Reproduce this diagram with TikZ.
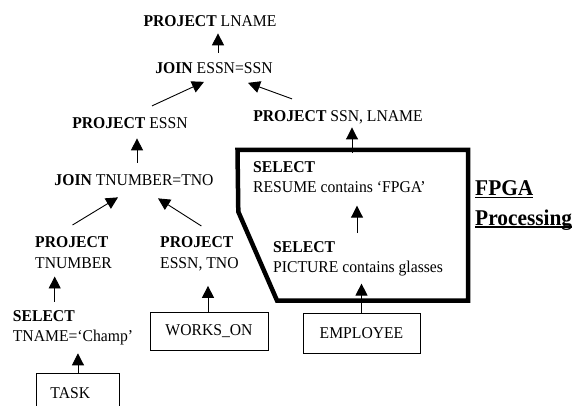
\documentclass[tikz,border=0pt]{standalone}
\usepackage{fontspec}
\setmainfont{Liberation Serif}[FakeStretch=0.95]
\usetikzlibrary{arrows.meta,calc}
\newcommand\ulbar[1]{\setbox0\hbox{#1}\rlap{\rule[-2.6pt]{\wd0}{1.6pt}}\box0}
\begin{document}
\begin{tikzpicture}[x=1pt,y=-1pt,
  lbl/.style={inner sep=0pt, font=\fontsize{16.5}{20.5}\selectfont},
  mlbl/.style={lbl, align=left, anchor=north west},
  relbox/.style={draw, line width=0.9pt, inner sep=0pt, font=\fontsize{16.5}{20.5}\selectfont},
  arr/.style={line width=0.9pt, -{Triangle[length=12pt,width=12pt]}},
  fpgabox/.style={line width=4.5pt, line join=miter},
  fpgalbl/.style={inner sep=0pt, align=left, anchor=north west, font=\fontsize{22.5}{29.5}\selectfont\bfseries}]
\clip (0,0) rectangle (575,406);
% labels
\node[lbl, anchor=base] (plname) at (210,26.5) {\textbf{PROJECT} LNAME};
\node[lbl, anchor=base] (jessn) at (214,73.5) {\textbf{JOIN} ESSN=SSN};
\node[lbl, anchor=base] (pessn) at (130,128.5) {\textbf{PROJECT} ESSN};
\node[lbl, anchor=base] (pssn) at (338,121.5) {\textbf{PROJECT} SSN, LNAME};
\node[lbl, anchor=base] (jtno) at (134,185.5) {\textbf{JOIN} TNUMBER=TNO};
\node[mlbl] (ptnum) at (35,236.5) {\textbf{PROJECT}\\TNUMBER};
\node[mlbl] (pessntno) at (160,236.5) {\textbf{PROJECT}\\ESSN, TNO};
\node[mlbl, font=\fontsize{16.5}{20}\selectfont] (sel1) at (12.7,310) {\textbf{SELECT}\\TNAME=‘Champ’};
\node[mlbl, font=\fontsize{16.5}{20}\selectfont] (sresume) at (253,161.7) {\textbf{SELECT}\\RESUME contains ‘FPGA’};
\node[mlbl, font=\fontsize{16.5}{20}\selectfont] (spicture) at (273,241.7) {\textbf{SELECT}\\PICTURE contains glasses};
\node[fpgalbl] (fpga) at (475,180.7) {\ulbar{FPGA}\\\ulbar{Processing}};
% relations
\node[relbox, minimum width=118pt, minimum height=38pt] (works) at (209,331) {WORKS\_ON};
\node[relbox, minimum width=117pt, minimum height=40pt] (employee) at (361.5,333) {EMPLOYEE};
\node[relbox, anchor=north west, minimum width=83pt, minimum height=40pt, text width=55pt, inner xsep=14pt, align=left] (task) at (36,373) {TASK};
% FPGA processing region
\draw[fpgabox] (237.5,150) -- (468,150) -- (468,300.5) -- (277,300.5) -- (238.3,211.7) -- cycle;
% connectors
\draw[arr, shorten <=9.5pt, shorten >=6.5pt] ([xshift=4pt]jessn.north) -- ([xshift=4pt]jessn.north |- plname.south);
\draw[arr] ($(pessn.north)+(22,-11.5)$) -- ($(jessn.south)+(-10,8)$);
\draw[arr] ($(pssn.north)+(-46,-11.5)$) -- ($(jessn.south)+(34,9)$);
\draw[arr, shorten <=11.5pt, shorten >=9.5pt] ([xshift=3pt]jtno.north) -- ([xshift=3pt]jtno.north |- pessn.south);
\draw[arr] ($(ptnum.north)+(-1,-11.5)$) -- ($(jtno.south)+(-16,11.5)$);
\draw[arr] ($(pessntno.north)+(2,-10.5)$) -- ($(jtno.south)+(24,12.5)$);
\draw[arr, shorten <=8.5pt, shorten >=8pt] ([xshift=42pt]sel1.north west) -- ([xshift=42pt]sel1.north west |- ptnum.south);
\draw[arr, shorten >=8.5pt] (task.north) -- (task.north |- sel1.south);
\draw[arr, shorten >=15pt] ([xshift=-1pt]works.north) -- ([xshift=-1pt]works.north |- pessntno.south);
\draw[arr, shorten >=7pt] (employee.north) -- (employee.north |- spicture.south);
\draw[arr, shorten <=8.7pt, shorten >=12.5pt] ([xshift=84pt]spicture.north west) -- ([xshift=84pt]spicture.north west |- sresume.south);
\draw[arr, shorten <=8.5pt, shorten >=3.2pt] ([xshift=14pt]pssn.south |- sresume.north) -- ([xshift=14pt]pssn.south);
\end{tikzpicture}
\end{document}
